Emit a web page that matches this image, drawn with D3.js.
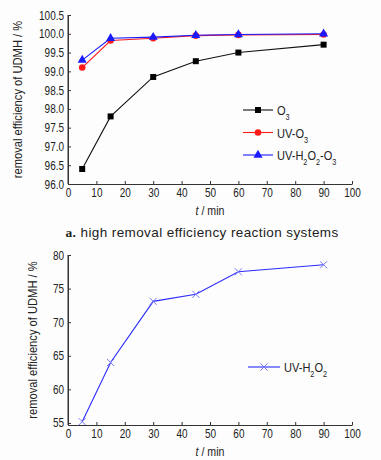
<!DOCTYPE html>
<html>
<head>
<meta charset="utf-8">
<script src="https://cdn.jsdelivr.net/npm/d3@7"></script>
<style>
  body { margin: 0; background: #fdfdfd; }
  svg { display: block; }
  text { font-family: "Liberation Sans", Arial, sans-serif; fill: #222; }
</style>
</head>
<body>
<svg id="chart" width="381" height="460"></svg>
<script>
// data
var times = [5, 15, 30, 45, 60, 90];
var o3 = [96.4, 97.8, 98.85, 99.27, 99.5, 99.71];
var uvO3 = [99.1, 99.82, 99.88, 99.95, 99.97, 99.98];
var uvH2o2O3 = [99.3, 99.88, 99.91, 99.96, 99.98, 100.0];
var uvH2o2 = [55.2, 64.0, 73.1, 74.15, 77.5, 78.55];
var xTicks = [0, 10, 20, 30, 40, 50, 60, 70, 80, 90, 100];
var yTicksTop = [96.0, 96.5, 97.0, 97.5, 98.0, 98.5, 99.0, 99.5, 100.0, 100.5];
var yTicksBottom = [55, 60, 65, 70, 75, 80];

var svg = d3.select("#chart");
var axisColor = "#333";
var squeeze = 0.8; // the original uses a condensed face

function drawPanel(opt) {
  var x = d3.scaleLinear().domain([0, 100]).range([68, 352]);
  var y = d3.scaleLinear().domain(opt.yDomain).range([opt.bottom, opt.top]);
  var g = svg.append("g");

  // axes, ticks pointing inward
  var xAxis = g.append("g")
      .attr("transform", "translate(0," + opt.bottom + ")")
      .call(d3.axisBottom(x).tickValues(xTicks).tickSizeInner(-3).tickSizeOuter(0).tickPadding(4));
  var yAxis = g.append("g")
      .attr("transform", "translate(68,0)")
      .call(d3.axisLeft(y).tickValues(opt.yTicks).tickFormat(opt.fmt).tickSizeInner(-3).tickSizeOuter(0).tickPadding(4));
  [xAxis, yAxis].forEach(function(a) {
    a.select(".domain").attr("stroke", axisColor);
    a.selectAll(".tick line").attr("stroke", axisColor);
    a.selectAll(".tick text").attr("fill", "#222").style("font-size", "12.5px")
      .attr("transform", "scale(" + squeeze + ",1)");
  });
  yAxis.selectAll(".tick text").attr("x", -4 / squeeze);
  // y-axis line down to the x-axis (domain may sit a little below the first tick)
  g.append("line").attr("x1", 68).attr("x2", 68).attr("y1", opt.top).attr("y2", opt.bottom).attr("stroke", axisColor);

  g.append("text")
      .attr("transform", "translate(210," + (opt.bottom + 31) + ") scale(0.85,1)")
      .attr("text-anchor", "middle")
      .style("font-size", "12.5px")
      .html("<tspan font-style='italic'>t</tspan> / min");

  g.append("text")
      .attr("transform", "translate(" + opt.yTitleX + "," + ((opt.top + opt.bottom) / 2) + ") rotate(-90) scale(0.86,1)")
      .attr("text-anchor", "middle")
      .style("font-size", "13px")
      .text("removal efficiency of UDMH / %");

  var line = d3.line().x(function(d, i) { return x(times[i]); }).y(function(d) { return y(d); });

  opt.series.forEach(function(s) {
    g.append("path").datum(s.values)
      .attr("d", line).attr("fill", "none").attr("stroke", s.color).attr("stroke-width", 1.1);
    g.selectAll(null).data(s.values).enter().append("path")
      .attr("transform", function(d, i) { return "translate(" + x(times[i]) + "," + y(d) + ")"; })
      .attr("d", s.marker)
      .attr("fill", s.fill).attr("stroke", s.markerStroke).attr("stroke-width", s.markerWidth || 0);
  });

  // legend
  opt.series.forEach(function(s, i) {
    var ly = opt.legY + i * 22.5;
    var lg = g.append("g").attr("transform", "translate(" + opt.legX + "," + ly + ")");
    lg.append("line").attr("x1", 0).attr("x2", opt.legW).attr("stroke", s.color).attr("stroke-width", 1.1);
    lg.append("path").attr("transform", "translate(" + opt.legW / 2 + ",0)").attr("d", s.marker)
      .attr("fill", s.fill).attr("stroke", s.markerStroke).attr("stroke-width", s.markerWidth || 0);
    lg.append("text")
      .attr("transform", "translate(" + (opt.legW + 4) + ",5) scale(0.85,1)")
      .style("font-size", "13px").html(s.label);
  });
}

var sq = d3.symbol(d3.symbolSquare, 36)();
var circ = d3.symbol(d3.symbolCircle, 34)();
var tri = d3.symbol(d3.symbolTriangle, 36)();
var cross = "M-3.5,-3.5L3.5,3.5M-3.5,3.5L3.5,-3.5";
function sub(t) { return "<tspan dy='5' font-size='8.5px'>" + t + "</tspan><tspan dy='-5'>"; }

drawPanel({
  top: 15, bottom: 184, yDomain: [96.0, 100.5], yTicks: yTicksTop,
  fmt: d3.format(".1f"), yTitleX: 22,
  legX: 243, legY: 110, legW: 30,
  series: [
    { values: o3, color: "#111", fill: "#000", marker: sq, label: "O" + sub("3") + "</tspan>" },
    { values: uvO3, color: "#ff1a1a", fill: "#ff1a1a", marker: circ, label: "UV-O" + sub("3") + "</tspan>" },
    { values: uvH2o2O3, color: "#1a1aff", fill: "#1a1aff", marker: tri,
      label: "UV-H" + sub("2") + "O</tspan>" + sub("2") + "-O</tspan>" + sub("3") + "</tspan>" }
  ]
});

svg.append("text")
    .attr("x", 202).attr("y", 237)
    .attr("text-anchor", "middle")
    .style("font-size", "13.5px")
    .style("letter-spacing", "0.4px")
    .html("<tspan font-weight='bold' font-family='Liberation Serif, serif'>a.</tspan> high removal efficiency reaction systems");

drawPanel({
  top: 255, bottom: 425, yDomain: [54.7, 80], yTicks: yTicksBottom,
  fmt: d3.format("d"), yTitleX: 37,
  legX: 248, legY: 367, legW: 32,
  series: [
    { values: uvH2o2, color: "#2b2bff", fill: "none", marker: cross, markerStroke: "#7777ff", markerWidth: 1,
      label: "UV-H" + sub("2") + "O</tspan>" + sub("2") + "</tspan>" }
  ]
});
</script>
</body>
</html>
